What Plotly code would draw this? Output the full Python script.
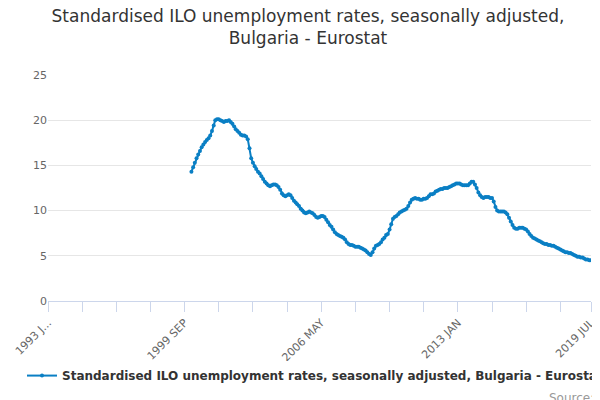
import plotly.graph_objects as go

series_name = "Standardised ILO unemployment rates, seasonally adjusted, Bulgaria - Eurostat"

# monthly values, Jan 2000 .. Jul 2019
y2000 = [14.3, 14.8, 15.3, 15.8, 16.2, 16.6, 17.0, 17.3, 17.6, 17.8, 18.0, 18.3]
y2001 = [18.8, 19.4, 20.0, 20.1, 20.1, 20.0, 19.9, 19.8, 19.9, 19.9, 20.0, 19.8]
y2002 = [19.6, 19.3, 19.0, 18.8, 18.6, 18.4, 18.3, 18.3, 18.2, 17.9, 16.9, 15.8]
y2003 = [15.3, 14.9, 14.6, 14.3, 14.1, 13.8, 13.5, 13.2, 13.0, 12.8, 12.7, 12.8]
y2004 = [12.9, 12.9, 12.8, 12.6, 12.3, 11.9, 11.7, 11.6, 11.7, 11.8, 11.7, 11.4]
y2005 = [11.1, 10.9, 10.7, 10.5, 10.2, 10.0, 9.8, 9.7, 9.8, 9.9, 9.8, 9.7]
y2006 = [9.5, 9.3, 9.2, 9.3, 9.4, 9.4, 9.3, 9.0, 8.7, 8.4, 8.2, 7.9]
y2007 = [7.6, 7.4, 7.3, 7.2, 7.1, 7.0, 6.8, 6.5, 6.3, 6.2, 6.2, 6.1]
y2008 = [6.0, 6.0, 6.0, 5.9, 5.8, 5.7, 5.6, 5.4, 5.2, 5.1, 5.4, 5.8]
y2009 = [6.1, 6.2, 6.3, 6.5, 6.8, 7.0, 7.3, 7.4, 7.9, 8.5, 9.1, 9.3]
y2010 = [9.4, 9.6, 9.8, 9.9, 10.0, 10.1, 10.2, 10.5, 10.9, 11.2, 11.3, 11.4]
y2011 = [11.3, 11.3, 11.2, 11.2, 11.3, 11.3, 11.4, 11.6, 11.8, 11.8, 11.9, 12.1]
y2012 = [12.2, 12.3, 12.4, 12.4, 12.5, 12.5, 12.5, 12.6, 12.7, 12.8, 12.9, 13.0]
y2013 = [13.0, 13.0, 12.9, 12.8, 12.8, 12.8, 12.8, 13.0, 13.2, 13.2, 12.9, 12.5]
y2014 = [12.0, 11.7, 11.5, 11.4, 11.5, 11.5, 11.5, 11.4, 11.4, 11.0, 10.4, 10.0]
y2015 = [9.9, 9.9, 9.9, 9.9, 9.8, 9.6, 9.2, 8.8, 8.4, 8.1, 8.0, 8.0]
y2016 = [8.1, 8.1, 8.1, 8.0, 7.9, 7.7, 7.4, 7.2, 7.0, 6.9, 6.8, 6.7]
y2017 = [6.6, 6.5, 6.4, 6.3, 6.3, 6.2, 6.2, 6.1, 6.1, 6.0, 5.9, 5.8]
y2018 = [5.7, 5.6, 5.5, 5.4, 5.4, 5.3, 5.3, 5.2, 5.1, 5.0, 4.9, 4.9]
y2019 = [4.8, 4.8, 4.7, 4.6, 4.6, 4.5, 4.5]

years = list(range(2000, 2020))
rows = [y2000, y2001, y2002, y2003, y2004, y2005, y2006, y2007, y2008, y2009,
        y2010, y2011, y2012, y2013, y2014, y2015, y2016, y2017, y2018, y2019]

dates, values = [], []
for yr, row in zip(years, rows):
    for m, v in enumerate(row):
        dates.append(f"{yr}-{m + 1:02d}-01")
        values.append(v)

tick_dates = ["1993-01-01", "1999-09-01", "2006-05-01", "2013-01-01", "2019-07-01"]
tick_labels = ["1993 J...", "1999 SEP", "2006 MAY", "2013 JAN", "2019 JUL"]

fig = go.Figure(go.Scatter(
    x=dates, y=values, mode="lines+markers", name=series_name,
    line=dict(color="#0a7fc4", width=2),
    marker=dict(color="#0a7fc4", size=4),
))

fig.update_layout(
    width=600, height=400,
    font=dict(family="DejaVu Sans", color="#666666", size=11),
    title=dict(text="Standardised ILO unemployment rates, seasonally adjusted,<br>Bulgaria - Eurostat",
               x=0.5, y=0.965, xanchor="center", yanchor="top",
               font=dict(size=17, color="#333333")),
    plot_bgcolor="white", paper_bgcolor="white",
    margin=dict(l=40, r=17, t=67, b=107),
    showlegend=True,
    legend=dict(orientation="h", x=0.5, xanchor="center", y=-0.33, yanchor="middle",
                font=dict(size=12, color="#333333", weight="bold")),
    xaxis=dict(type="date", range=["1993-01-01", "2019-07-01"], automargin=False,
               tickvals=tick_dates, ticktext=tick_labels, tickangle=-45,
               showgrid=False, showline=True, linecolor="#ccd6eb",
               ticks="outside", ticklen=10, tickcolor="#ccd6eb",
               minor=dict(dtick="M20", tick0="1993-01-01", ticks="outside",
                          ticklen=10, tickcolor="#ccd6eb", showgrid=False),
               zeroline=False),
    yaxis=dict(range=[0, 25], dtick=5, gridcolor="#e6e6e6", zeroline=False,
               showline=False, ticks="", automargin=False),
    annotations=[dict(text="Source:", xref="paper", yref="paper", x=1.01, y=-0.43,
                      xanchor="right", yanchor="middle", showarrow=False,
                      font=dict(size=12, color="#999999"))],
)

fig.write_html("out.html")
